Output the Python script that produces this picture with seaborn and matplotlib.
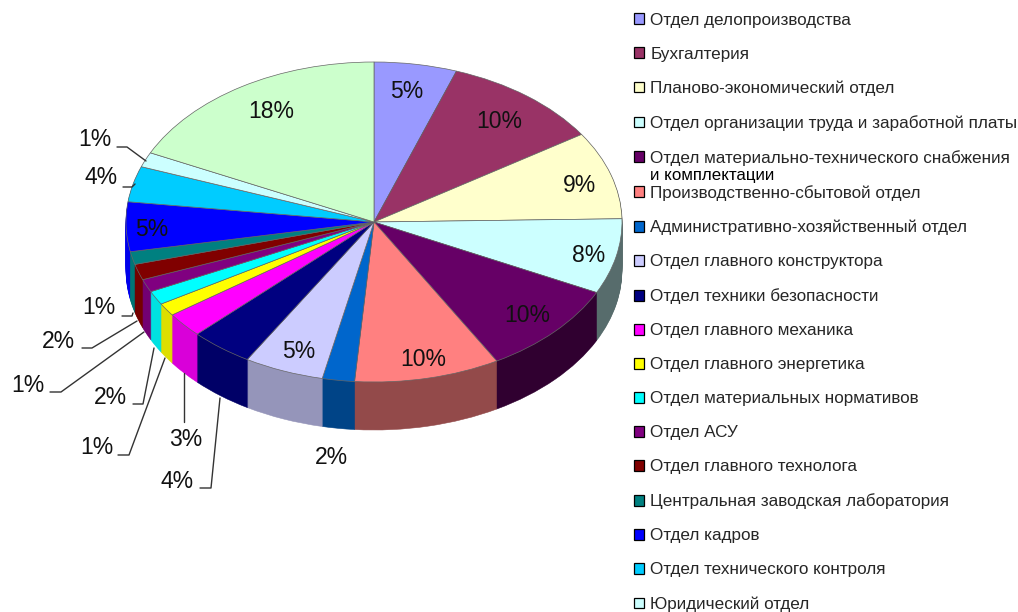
# -*- coding: utf-8 -*-
import numpy as np
import seaborn as sns
import matplotlib.pyplot as plt
from matplotlib.patches import Patch

departments = ['Отдел делопроизводства', 'Бухгалтерия', 'Планово-экономический отдел',
               'Отдел организации труда и заработной платы',
               'Отдел материально-технического снабжения',
               'Производственно-сбытовой отдел', 'Административно-хозяйственный отдел',
               'Отдел главного конструктора', 'Отдел техники безопасности',
               'Отдел главного механика', 'Отдел главного энергетика',
               'Отдел материальных нормативов', 'Отдел АСУ', 'Отдел главного технолога',
               'Центральная заводская лаборатория', 'Отдел кадров',
               'Отдел технического контроля', 'Юридический отдел']
# slice shares, last one has no visible legend row
shares = [5.4, 10.4, 8.9, 7.6, 9.5, 9.5, 2.1, 5.2, 4.1, 2.5, 1.3, 1.4, 1.3, 1.6, 1.3, 5.0, 3.6, 1.5, 17.9]
percents = [5, 10, 9, 8, 10, 10, 2, 5, 4, 3, 1, 2, 1, 2, 1, 5, 4, 1, 18]
colors = ['#9999FF', '#993366', '#FFFFCC', '#CCFFFF', '#660066', '#FF8080', '#0066CC',
          '#CCCCFF', '#000080', '#FF00FF', '#FFFF00', '#00FFFF', '#800080', '#800000',
          '#008080', '#0000FF', '#00CCFF', '#CCFFFF', '#CCFFCC']

sns.set_theme(style='white')
plt.rcParams['font.family'] = ['Liberation Sans', 'DejaVu Sans']

W, H = 1018, 612
cx, cy, rx, ry = 374, 222, 248, 160   # ellipse of the top face, px
depth = 48

fig = plt.figure(figsize=(W / 100, H / 100), dpi=100)
ax = fig.add_axes([0, 0, 1, 1])
over = fig.add_axes([0, 0, 1, 1])
over.patch.set_alpha(0)

palette = [tuple(c) for c in sns.color_palette(colors)]
mid = np.radians((np.cumsum(shares) - np.array(shares) / 2) / sum(shares) * 360)
sin_mid = np.sin(mid)
# wall is lit from the left
shade = np.where(sin_mid < 0, 0.62 - 0.3 * sin_mid, 0.62 - 0.2 * sin_mid)
wall = [tuple(np.array(c) * s) for c, s in zip(palette, shade)]

# side wall: stack of darker pies going down
for d in range(depth, 0, -1):
    layer, _ = ax.pie(shares, colors=wall, startangle=90, counterclock=False, center=(0, -d / ry))
    for w in layer:
        w.set_edgecolor(w.get_facecolor())
        w.set_linewidth(0.4)
wedges, _ = ax.pie(shares, colors=palette, startangle=90, counterclock=False,
                   wedgeprops={'linewidth': 0.5, 'edgecolor': '#666666'})

ax.set_aspect('auto')
ax.set_xlim(-cx / rx, (W - cx) / rx)
ax.set_ylim((cy - H) / ry, cy / ry)

over.set_xlim(0, W)
over.set_ylim(H, 0)
over.axis('off')

label_xy = [(407, 91), (499, 121), (580, 186), (589, 255), (527, 316), (423, 360), (331, 457),
            (299, 352), (177, 481), (186, 440), (97, 448), (110, 397), (28, 385), (58, 341),
            (99, 308), (152, 229), (101, 178), (95, 140), (271, 112)]
for p, (x, y) in zip(percents, label_xy):
    over.text(x, y, f'{p}%', fontsize=16.5, color='#111111', ha='center', va='center')

leaders = [[(122, 316), (132, 316), (133, 313)],
           [(82, 348), (92, 348), (137, 321)],
           [(50, 392), (61, 392), (144, 332)],
           [(133, 404), (143, 404), (154, 348)],
           [(118, 455), (129, 455), (165, 358)],
           [(184, 373), (184, 422)],
           [(200, 488), (211, 488), (220, 398)],
           [(117, 147), (127, 147), (146, 161)],
           [(123, 187), (132, 187), (135, 184)]]
for pts in leaders:
    xs, ys = zip(*pts)
    over.plot(xs, ys, color='#333333', lw=1)

handles = [Patch(facecolor=c, edgecolor='black', linewidth=0.9) for c in colors[:len(departments)]]
over.legend(handles, departments, loc='upper left', bbox_to_anchor=(634 / W, 1 - 12.5 / H),
            bbox_transform=fig.transFigure, frameon=False, fontsize=12.3, labelspacing=1.115,
            handlelength=0.6, handleheight=0.6, handletextpad=0.35, borderpad=0, borderaxespad=0)
over.text(650, 175.5, 'и комплектации', fontsize=12.2, color='black', ha='left', va='center')

fig.savefig('out.png', dpi=100)
